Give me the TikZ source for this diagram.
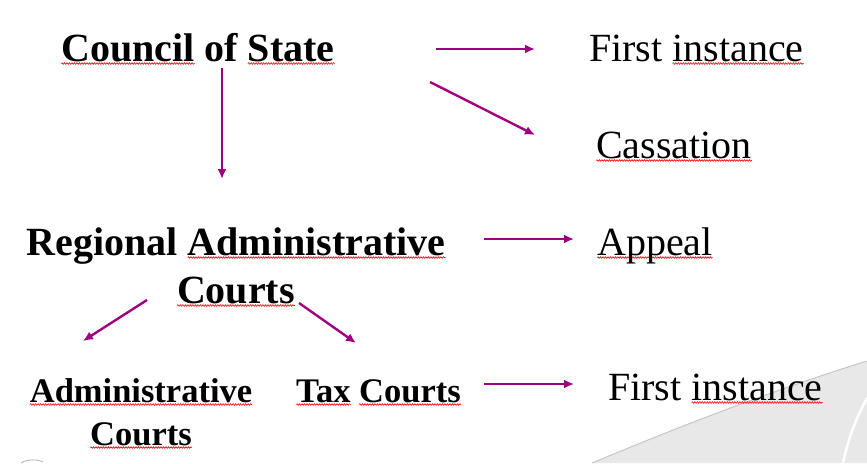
\documentclass[tikz,border=0pt]{standalone}
\usepackage{fontspec}
\setmainfont{Liberation Serif}
\usepackage{tikz}
\usetikzlibrary{arrows.meta,decorations.pathmorphing}

\definecolor{courtplum}{RGB}{160,0,128}
\definecolor{swooshgray}{RGB}{232,232,232}

\newsavebox\spellbox
\newlength\spellwidth
\newcommand\spellmark[1]{%
  \sbox\spellbox{#1}\setlength\spellwidth{\wd\spellbox}%
  \rlap{\begin{tikzpicture}[x=1pt, y=1pt, overlay, baseline=0pt]
    \draw[red, line width=0.6pt, decorate, decoration={snake, amplitude=0.8pt, segment length=2.5pt}]
      (0,-2.5) -- (\spellwidth,-2.5);
  \end{tikzpicture}}\usebox\spellbox}

\tikzset{
  court/.style={inner sep=0pt, font=\bfseries\fontsize{40}{48}\selectfont},
  lowcourt/.style={inner sep=0pt, font=\bfseries\fontsize{34.5}{43}\selectfont},
  instance/.style={inner sep=0pt, font=\fontsize{40}{48}\selectfont},
  flow/.style={-{Latex[length=10pt,width=9pt]}, line width=2.4pt, draw=courtplum},
}

\begin{document}
\begin{tikzpicture}[x=1pt, y=-1pt]
    \useasboundingbox (0,0) rectangle (867,463);
    % grey swoosh of the slide.
    \fill[swooshgray] (592,463) .. controls (690,422) and (780,388) .. (867,361) -- (867,463) -- cycle;
    \draw[gray!45, line width=1pt] (592,463) .. controls (690,422) and (780,388) .. (867,361);
    \draw[white, line width=2.5pt] (867,398) .. controls (855,420) and (848,440) .. (843,463);
    \draw[gray!60, line width=0.8pt] (21,463) .. controls (27,459) and (37,459) .. (43,462);
    % courts.
    \node[court, anchor=base west] (council) at (61, 61) {\spellmark{Council} of \spellmark{State}};
    \node[court, anchor=base, align=center] (regional) at (236, 303)
        {Regional \spellmark{Administrative}\\\spellmark{Courts}};
    \node[lowcourt, anchor=base, align=center] (admin) at (141, 445)
        {\spellmark{Administrative}\\\spellmark{Courts}};
    \node[lowcourt, anchor=base west] (tax) at (296, 402) {\spellmark{Tax} \spellmark{Courts}};
    % instances.
    \node[instance, anchor=base west] (first top) at (589, 61) {First \spellmark{instance}};
    \node[instance, anchor=base west] (cassation) at (596, 158) {\spellmark{Cassation}};
    \node[instance, anchor=base west] (appeal) at (597, 255) {\spellmark{Appeal}};
    \node[instance, anchor=base west] (first bottom) at (608, 400) {First \spellmark{instance}};
    % council arrows.
    \coordinate (council root) at (222, 68);
    \coordinate (council tip) at (222, 179);
    \draw[flow] (council root) -- (council tip);
    \coordinate (instance root) at (436, 49);
    \coordinate (instance tip) at (535, 49);
    \draw[flow] (instance root) -- (instance tip);
    \coordinate (cassation root) at (430, 82);
    \coordinate (cassation tip) at (535, 135);
    \draw[flow] (cassation root) -- (cassation tip);
    % regional arrows.
    \coordinate (appeal root) at (484, 239);
    \coordinate (appeal tip) at (574, 239);
    \draw[flow] (appeal root) -- (appeal tip);
    \coordinate (admin root) at (147, 300);
    \coordinate (admin tip) at (83, 341);
    \draw[flow] (admin root) -- (admin tip);
    \coordinate (tax root) at (299, 303);
    \coordinate (tax tip) at (356, 343);
    \draw[flow] (tax root) -- (tax tip);
    % tax court arrow.
    \coordinate (first root) at (484, 384);
    \coordinate (first tip) at (574, 384);
    \draw[flow] (first root) -- (first tip);
\end{tikzpicture}
\end{document}
